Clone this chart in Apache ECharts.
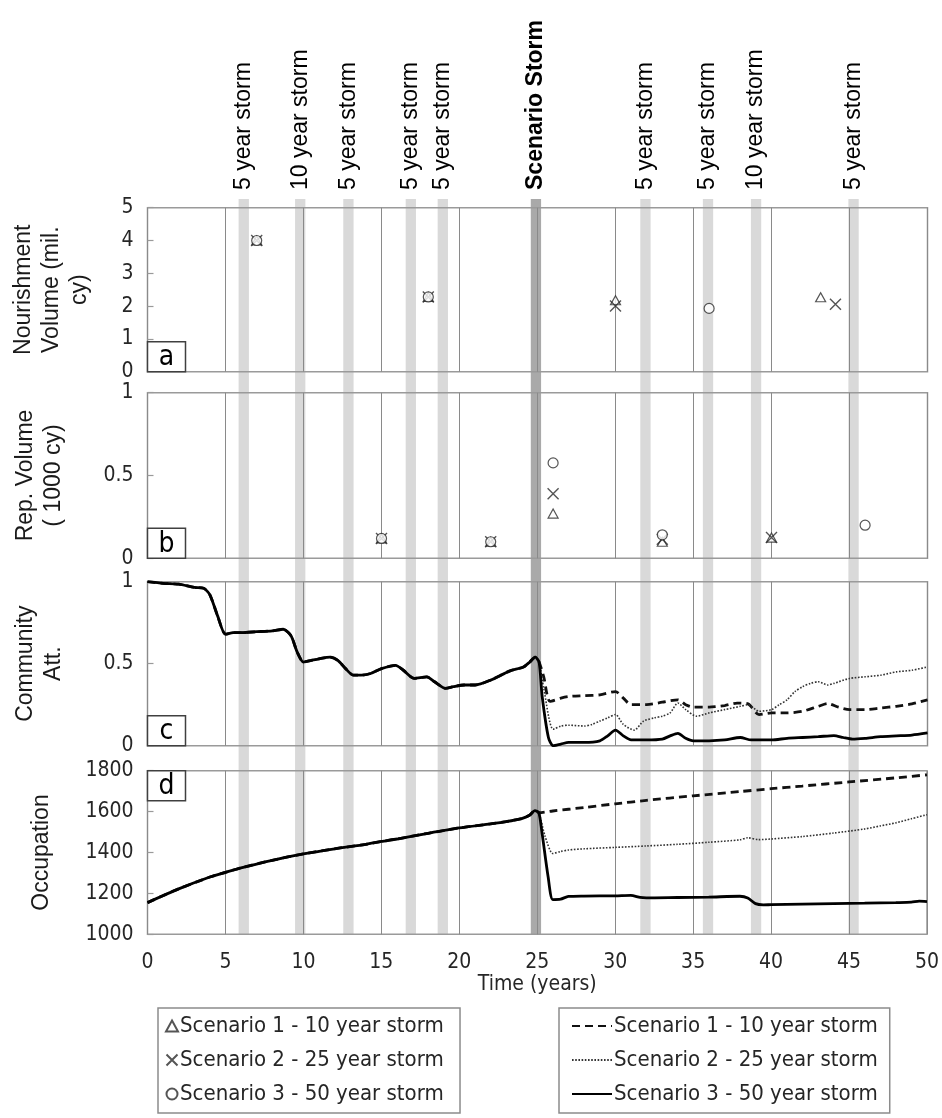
<!DOCTYPE html>
<html><head><meta charset="utf-8">
<script src="https://cdn.jsdelivr.net/npm/echarts@6/dist/echarts.min.js"></script>
<style>html,body{margin:0;padding:0;background:#fff}#c{width:942px;height:1118px}</style>
</head><body><div id="c"></div>
<script>
// ---------------- DATA ----------------
const stormNames = ['5 year storm','10 year storm','5 year storm','5 year storm','5 year storm','Scenario Storm','5 year storm','5 year storm','10 year storm','5 year storm'];
const stormYears = [6.17, 9.79, 12.88, 16.88, 18.93, 24.9, 31.92, 35.93, 39.01, 45.26];
const scenarioStormIndex = 5;

const scenarioNames = ['Scenario 1 - 10 year storm','Scenario 2 - 25 year storm','Scenario 3 - 50 year storm'];

// (a) Nourishment volume (mil. cy)
const nourishYears1 = [7, 18, 30, 43.15];
const nourish1      = [4, 2.28, 2.18, 2.27];
const nourishYears2 = [7, 18, 30, 44.1];
const nourish2      = [4, 2.28, 2.0, 2.06];
const nourishYears3 = [7, 18, 36];
const nourish3      = [4, 2.28, 1.93];

// (b) Rep. volume (1000 cy)
const repYears1 = [15, 22, 26, 33, 40];
const rep1      = [0.12, 0.1, 0.27, 0.1, 0.125];
const repYears2 = [15, 22, 26, 33, 40];
const rep2      = [0.12, 0.1, 0.39, 0.115, 0.125];
const repYears3 = [15, 22, 26, 33, 46];
const rep3      = [0.12, 0.1, 0.576, 0.142, 0.2];

// (c) Community attractiveness – common history before scenario storm
const attPreYears = [0,1,2,3,3.6,4,4.5,5,5.5,6,7,8,8.7,9.2,9.6,10,10.5,11,11.7,12.2,12.7,13.2,13.7,14.3,15,15.9,16.4,17.1,17.9,18.4,19.1,19.6,20.3,21,22,23.2,24.1,24.5,24.85];
const attPre      = [1.0,0.99,0.985,0.965,0.96,0.92,0.79,0.68,0.69,0.69,0.695,0.70,0.71,0.67,0.57,0.51,0.52,0.53,0.54,0.52,0.47,0.43,0.43,0.44,0.47,0.49,0.46,0.41,0.42,0.39,0.35,0.36,0.37,0.37,0.40,0.455,0.48,0.51,0.54];
const attYears1 = [25.1,25.4,25.8,26.5,27,28,29,30,30.5,31,32,33,34,34.5,35,36,37,37.8,38.5,39.2,40,41,42,43,43.6,44.3,45,46,47,48,49,50];
const att1      = [0.51,0.42,0.27,0.29,0.30,0.305,0.31,0.33,0.29,0.25,0.25,0.265,0.28,0.25,0.235,0.235,0.245,0.26,0.255,0.19,0.20,0.20,0.21,0.24,0.257,0.235,0.22,0.22,0.23,0.24,0.255,0.28];
const attYears2 = [25.1,25.4,26,26.5,27,28,28.5,29,29.5,30,30.5,31.2,31.8,32.5,33,33.5,34,34.5,35.2,36,37,38,38.5,39.2,40,40.5,41,41.5,42,42.5,43,43.6,44,45,46,47,48,49,50];
const att2      = [0.51,0.35,0.10,0.12,0.125,0.12,0.13,0.15,0.17,0.19,0.13,0.095,0.15,0.17,0.18,0.20,0.26,0.22,0.18,0.20,0.22,0.24,0.25,0.21,0.22,0.25,0.28,0.33,0.36,0.38,0.39,0.37,0.38,0.41,0.42,0.43,0.45,0.46,0.48];
const attYears3 = [25.1,25.3,25.7,26,26.5,27,28,29,29.5,30,30.5,31,32,33,33.5,34,34.5,35,36,37,38,38.7,39.5,40,41,42,43,44,44.6,45.2,46,47,48,49,50];
const att3      = [0.51,0.30,0.05,0.0,0.01,0.02,0.02,0.03,0.06,0.095,0.06,0.035,0.035,0.04,0.06,0.075,0.045,0.03,0.03,0.035,0.05,0.035,0.035,0.035,0.045,0.05,0.055,0.062,0.05,0.04,0.045,0.055,0.06,0.065,0.078];

// (d) Occupation
const occPreYears = [0,2,4,5,6,8,10,12,14,15,16,18,20,22,23,24,24.5,24.85];
const occPre      = [1155,1222,1280,1303,1325,1362,1393,1418,1440,1454,1466,1494,1520,1540,1551,1566,1582,1605];
const occYears1 = [25.1,26,28,30,32,35,38,40,42,45,48,50];
const occ1      = [1595,1603,1620,1638,1655,1677,1698,1712,1725,1745,1765,1780];
const occYears2 = [25.1,25.5,26,26.5,27,28,30,32,34,36,38,38.5,39.2,40,42,44,46,47,48,49,50];
const occ2      = [1595,1480,1395,1405,1412,1418,1425,1432,1440,1450,1462,1472,1463,1466,1478,1495,1515,1530,1545,1565,1585];
const occYears3 = [25.1,25.3,25.7,26,26.5,27,28,30,31,31.6,32,34,36,38,38.5,39,39.5,40,42,44,46,48,49,49.5,50];
const occ3      = [1595,1500,1280,1170,1172,1185,1187,1188,1190,1180,1178,1180,1182,1186,1178,1150,1144,1145,1148,1150,1152,1155,1157,1162,1160];

const panelLetters = ['a','b','c','d'];

// ---------------- CHART ----------------
const pairs = (xs, ys) => xs.map((x, i) => [x, ys[i]]);
const histThen = (preX, preY, xs, ys) => pairs(preX, preY).concat(pairs(xs, ys));

const NARROW = '"Liberation Sans Narrow","DejaVu Sans Condensed","Open Sans",sans-serif';
const ARIAL = '"Liberation Sans",Arial,sans-serif';
const L = 147.5, W = 780;
const grids = [
  {left: L, width: W, top: 207.7, height: 164},
  {left: L, width: W, top: 392.7, height: 165.6},
  {left: L, width: W, top: 581.7, height: 164},
  {left: L, width: W, top: 770.7, height: 163.6},
  {left: L, width: W, top: 199, height: 735.3}
].map((g, i) => Object.assign({show: i < 4, borderColor: '#9a9a9a', borderWidth: 1.5, backgroundColor: 'transparent', z: 1}, g));

const xAxes = [0,1,2,3,4].map(i => ({
  type: 'value', gridIndex: i, min: 0, max: 50, interval: 5, z: 1,
  show: i < 4,
  axisLine: {show: false}, axisTick: {show: false},
  splitLine: {show: i < 4, lineStyle: {color: '#8a8a8a', width: 1}},
  axisLabel: {show: i === 3, fontSize: 21, color: '#262626', fontFamily: NARROW, margin: 18},
  name: i === 3 ? 'Time (years)' : '', nameLocation: 'middle', nameGap: 40,
  nameTextStyle: {fontSize: 21, color: '#262626', fontFamily: NARROW}
}));

const yCfg = [[0,5,1],[0,1,0.5],[0,1,0.5],[1000,1800,200]];
const yAxes = yCfg.map((c, i) => ({
  type: 'value', gridIndex: i, min: c[0], max: c[1], interval: c[2], z: 1,
  axisLine: {show: false},
  axisTick: {show: true, inside: true, length: 6, lineStyle: {color: '#9a9a9a', width: 1.2}},
  splitLine: {show: false},
  axisLabel: {fontSize: 21, color: '#262626', fontFamily: NARROW, margin: 14, formatter: v => String(v)}
})).concat([{type: 'value', gridIndex: 4, min: 0, max: 1, show: false}]);

const MK = '#2a2a2a';
const crossPath = 'path://M0,0L10,10M10,0L0,10';
const scatterStyle = [
  {symbol: 'triangle', symbolSize: [10, 9], itemStyle: {color: '#fff', borderColor: MK, borderWidth: 1.2}},
  {symbol: crossPath, symbolSize: 11, itemStyle: {color: 'none', borderColor: MK, borderWidth: 1.4}},
  {symbol: 'circle', symbolSize: 10, itemStyle: {color: '#fff', borderColor: MK, borderWidth: 1.2}}
];
const scatterNames = scenarioNames.map(n => n + ' ');
const nourishData = [pairs(nourishYears1, nourish1), pairs(nourishYears2, nourish2), pairs(nourishYears3, nourish3)];
const repData = [pairs(repYears1, rep1), pairs(repYears2, rep2), pairs(repYears3, rep3)];

const series = [];
nourishData.forEach((d, k) => series.push(Object.assign({type: 'scatter', name: scatterNames[k], xAxisIndex: 0, yAxisIndex: 0, data: d, z: 3}, scatterStyle[k])));
repData.forEach((d, k) => series.push(Object.assign({type: 'scatter', name: scatterNames[k], xAxisIndex: 1, yAxisIndex: 1, data: d, z: 3}, scatterStyle[k])));

const lineStyles = [
  {color: '#111', width: 2.8, type: [8, 5]},
  {color: '#333', width: 1.6, type: [1.6, 1.6]},
  {color: '#000', width: 2.8, type: 'solid'}
];
const attData = [histThen(attPreYears, attPre, attYears1, att1), histThen(attPreYears, attPre, attYears2, att2), histThen(attPreYears, attPre, attYears3, att3)];
const occData = [histThen(occPreYears, occPre, occYears1, occ1), histThen(occPreYears, occPre, occYears2, occ2), histThen(occPreYears, occPre, occYears3, occ3)];
[attData, occData].forEach((set, p) => set.forEach((d, k) => series.push({
  type: 'line', name: scenarioNames[k], xAxisIndex: 2 + p, yAxisIndex: 2 + p, data: d,
  symbol: 'none', smooth: 0.25, lineStyle: lineStyles[k], itemStyle: {color: lineStyles[k].color}, z: 3 + k
})));

const bandHalf = 0.33;
series.push({
  type: 'custom', xAxisIndex: 4, yAxisIndex: 4, z: 0, silent: true, clip: false,
  data: stormYears.map((y, i) => [y, i]),
  renderItem(params, api) {
    const c = api.value(0), i = api.value(1);
    const p0 = api.coord([c - bandHalf, 1]);
    const p1 = api.coord([c + bandHalf, 0]);
    const sc = i === scenarioStormIndex;
    return {type: 'group', children: [
      {type: 'rect', shape: {x: p0[0], y: p0[1], width: p1[0] - p0[0], height: p1[1] - p0[1]}, style: {fill: sc ? '#a9a9a9' : '#d9d9d9'}},
      {type: 'text', x: (p0[0] + p1[0]) / 2, y: p0[1] - 9, rotation: Math.PI / 2,
       style: {text: stormNames[i], fill: '#000', font: (sc ? 'bold ' : '') + '23px ' + ARIAL, align: 'left', verticalAlign: 'middle'}}
    ]};
  }
});

const chart = echarts.init(document.getElementById('c'), null, {renderer: 'canvas'});
chart.setOption({
  animation: false,
  backgroundColor: '#fff',
  grid: grids, xAxis: xAxes, yAxis: yAxes, series: series,
  legend: [
    {orient: 'vertical', left: 158, top: 1008, data: scatterNames, itemWidth: 12, itemHeight: 11, itemGap: 12,
     borderColor: '#8c8c8c', borderWidth: 1.5, padding: [7, 10, 8, 6], selectedMode: false,
     textStyle: {fontSize: 22, color: '#262626', fontFamily: NARROW, padding: [0, 0, 0, -3]}},
    {orient: 'vertical', left: 559, top: 1008, data: scenarioNames, itemWidth: 40, itemHeight: 11, itemGap: 12,
     borderColor: '#8c8c8c', borderWidth: 1.5, padding: [7, 12, 8, 12], selectedMode: false,
     itemStyle: {opacity: 0},
     textStyle: {fontSize: 22, color: '#262626', fontFamily: NARROW, padding: [0, 0, 0, -3]}}
  ]
});

// panel letters and axis titles
const yTop = [5, 1, 1, 1800], yBot = [0, 0, 0, 1000];
const titles = [
  {text: 'Nourishment\nVolume (mil.\ncy)', x: 52},
  {text: 'Rep. Volume\n( 1000 cy)', x: 40},
  {text: 'Community\nAtt.', x: 40},
  {text: 'Occupation', x: 42}
];
const graphics = [];
panelLetters.forEach((ltr, i) => {
  const tl = chart.convertToPixel({xAxisIndex: i, yAxisIndex: i}, [0, yTop[i]]);
  const bl = chart.convertToPixel({xAxisIndex: i, yAxisIndex: i}, [0, yBot[i]]);
  const bw = 38, bh = 30;
  const y0 = i === 3 ? tl[1] : bl[1] - bh;
  graphics.push({type: 'rect', x: tl[0], y: y0, shape: {x: 0, y: 0, width: bw, height: bh}, style: {fill: '#fff', stroke: '#404040', lineWidth: 1.5}, z: 10});
  graphics.push({type: 'text', x: tl[0] + bw / 2, y: y0 + bh / 2 + 1, style: {text: ltr, font: '28px ' + NARROW, fill: '#000', align: 'center', verticalAlign: 'middle'}, z: 11});
  graphics.push({type: 'text', x: titles[i].x, y: (tl[1] + bl[1]) / 2, rotation: Math.PI / 2,
    style: {text: titles[i].text, font: '23px ' + ARIAL, lineHeight: 28, fill: '#1a1a1a', align: 'center', verticalAlign: 'middle'}, z: 10});
});
chart.setOption({graphic: graphics});
</script>
</body></html>
